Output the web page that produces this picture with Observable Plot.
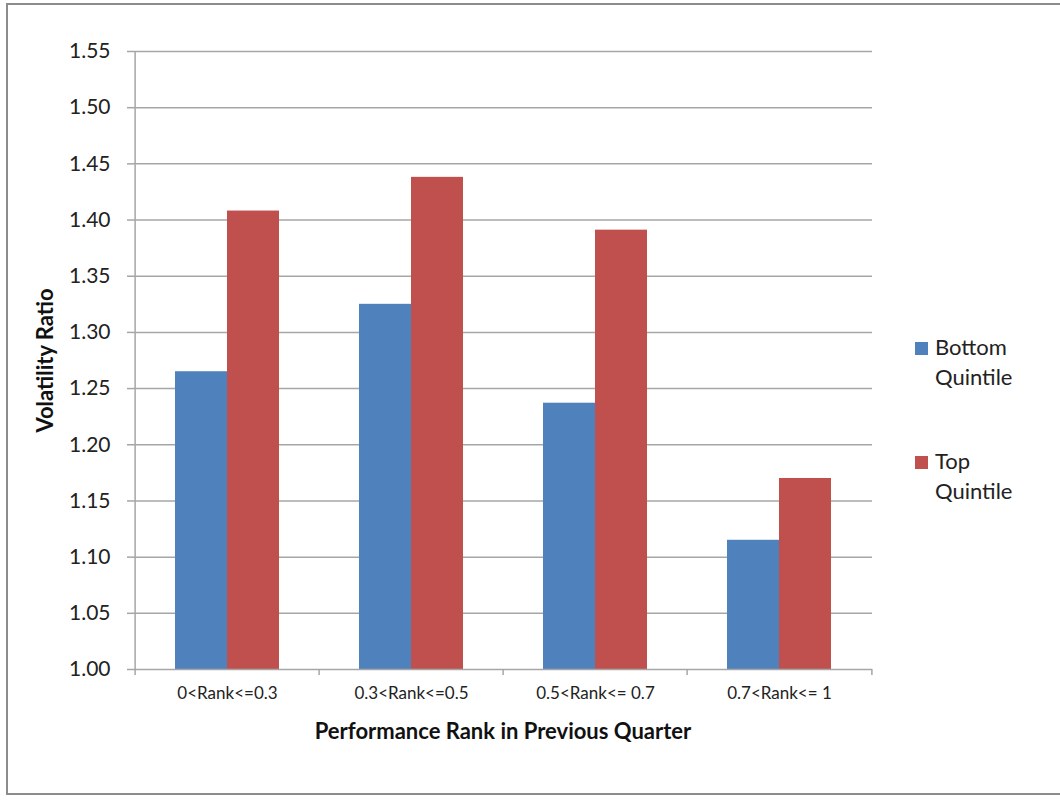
<!DOCTYPE html>
<html>
<head>
<meta charset="utf-8">
<script src="https://cdn.jsdelivr.net/npm/d3@7"></script>
<script src="https://cdn.jsdelivr.net/npm/@observablehq/plot@0.6"></script>
<style>
  html, body { margin: 0; padding: 0; background: #fff; overflow: hidden; }
  #wrap { position: relative; width: 1060px; height: 801px; }
  #frame { position: absolute; left: 6px; top: 3px; width: 1070px; height: 792px; border: 2px solid #8c8c8c; box-sizing: border-box; pointer-events: none; }
  #chart { position: absolute; left: 0; top: 0; }
  .legend { position: absolute; left: 915px; font-family: Lato, "Open Sans", sans-serif; font-size: 22px; color: #222; line-height: 30px; }
  .legend .sw { position: absolute; left: 0; top: 10px; width: 13px; height: 13px; }
  .legend .lb { position: absolute; left: 20px; top: 0; white-space: nowrap; }
</style>
</head>
<body>
<div id="wrap">
  <div id="chart"></div>
  <div id="legend"></div>
  <div id="frame"></div>
</div>
<script>
const categories = ["0<Rank<=0.3", "0.3<Rank<=0.5", "0.5<Rank<= 0.7", "0.7<Rank<= 1"];
const seriesNames = ["Bottom Quintile", "Top Quintile"];
const bottomValues = [1.265, 1.325, 1.237, 1.115];
const topValues = [1.408, 1.438, 1.391, 1.170];
const yTicks = [1.00, 1.05, 1.10, 1.15, 1.20, 1.25, 1.30, 1.35, 1.40, 1.45, 1.50, 1.55];
const colors = ["#4F81BD", "#C0504D"];

const W = 1060, H = 801, ML = 133, MR = 188, MT = 51, MB = 132;
const step = (W - ML - MR) / categories.length;
const padInner = 0.437;
const bandW = step * (1 - padInner);

const bottomData = categories.map((c, i) => ({cat: c, series: seriesNames[0], value: bottomValues[i]}));
const topData = categories.map((c, i) => ({cat: c, series: seriesNames[1], value: topValues[i]}));

const gridColor = "#a6a6a6";

const chart = Plot.plot({
  width: W, height: H,
  marginLeft: ML, marginRight: MR, marginTop: MT, marginBottom: MB,
  style: {fontFamily: "Lato, 'Open Sans', sans-serif", background: "transparent", color: "#222"},
  x: {domain: categories, paddingInner: padInner, paddingOuter: padInner / 2, label: null, axis: null},
  y: {domain: [1, 1.55], label: null, axis: null},
  color: {domain: seriesNames, range: colors},
  marks: [
    Plot.ruleY(yTicks.slice(1), {stroke: gridColor, strokeWidth: 1.5}),
    Plot.barY(bottomData, {x: "cat", y1: 1, y2: "value", fill: "series", insetRight: bandW / 2}),
    Plot.barY(topData, {x: "cat", y1: 1, y2: "value", fill: "series", insetLeft: bandW / 2}),
    Plot.ruleY([1], {stroke: gridColor, strokeWidth: 1.5}),
    Plot.ruleX([categories[0]], {dx: -step / 2, stroke: gridColor, strokeWidth: 1.5}),
    Plot.axisY(yTicks, {tickFormat: d3.format(".2f"), tickSize: 6, tickPadding: 17, fontSize: 21, stroke: gridColor, strokeWidth: 1.5, label: null}),
    Plot.axisX({tickSize: 0, tickPadding: 17, fontSize: 17, label: null}),
    Plot.axisX({text: null, tickSize: 6, dx: -step / 2, stroke: gridColor, strokeWidth: 1.5, label: null}),
    Plot.axisX([categories[categories.length - 1]], {text: null, tickSize: 6, dx: step / 2, stroke: gridColor, strokeWidth: 1.5, label: null}),
    Plot.text(["Volatility Ratio"], {text: d => d, frameAnchor: "left", textAnchor: "middle", lineAnchor: "middle", dx: -88, rotate: -90, fontWeight: "bold", fontSize: 22, fill: "#111"}),
    Plot.text(["Performance Rank in Previous Quarter"], {text: d => d, frameAnchor: "bottom", textAnchor: "middle", lineAnchor: "middle", dy: 62, fontWeight: "bold", fontSize: 22, fill: "#111"})
  ]
});
document.getElementById("chart").appendChild(chart);

const legend = document.getElementById("legend");
const legendTops = [332, 446];
seriesNames.forEach((name, i) => {
  const item = document.createElement("div");
  item.className = "legend";
  item.style.top = legendTops[i] + "px";
  const parts = name.split(" ");
  item.innerHTML = `<div class="sw" style="background:${colors[i]}"></div><div class="lb">${parts[0]}<br>${parts.slice(1).join(" ")}</div>`;
  legend.appendChild(item);
});
</script>
</body>
</html>
